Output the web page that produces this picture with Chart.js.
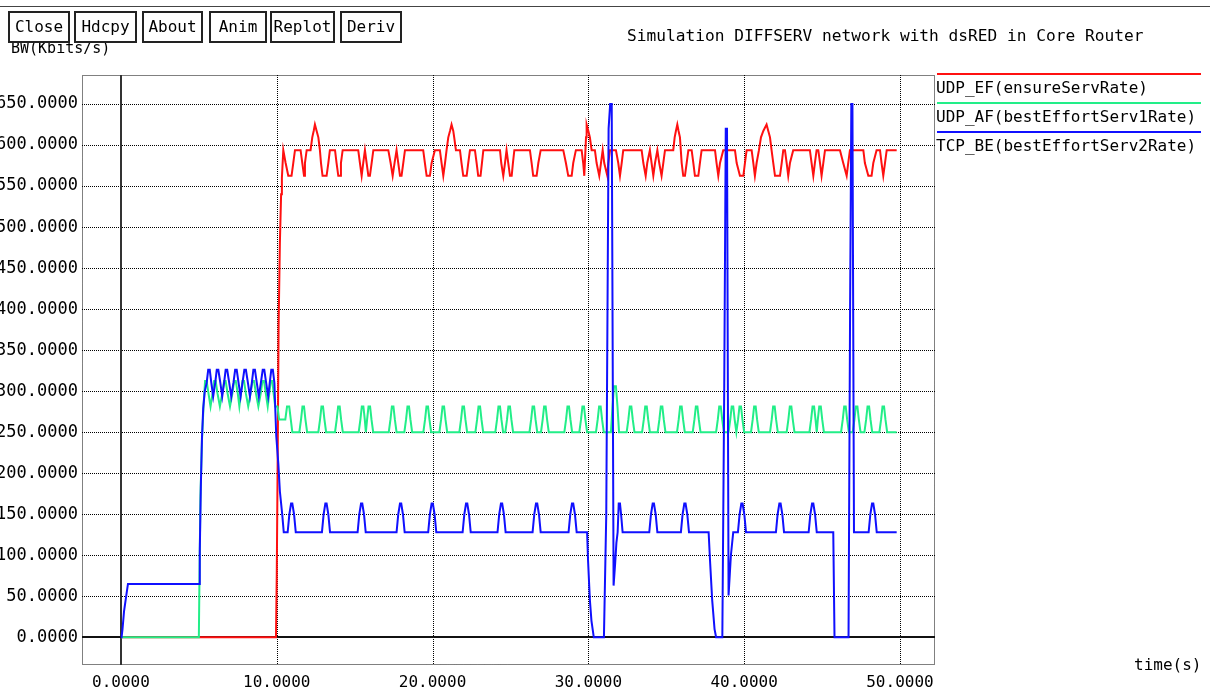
<!DOCTYPE html>
<html>
<head>
<meta charset="utf-8">
<title>Simulation DIFFSERV network with dsRED in Core Router</title>
<script src="https://cdn.jsdelivr.net/npm/chart.js@4.4.1/dist/chart.umd.min.js"></script>
<style>
  html, body { margin: 0; padding: 0; background: #fff; }
  #wrap {
    position: relative; width: 1210px; height: 690px; overflow: hidden;
    font-family: "DejaVu Sans Mono", monospace; color: #000;
  }
  #chart { position: absolute; left: 0; top: 0; }
  .topline { position: absolute; left: 0; top: 6px; width: 1210px; height: 1px; background: #444; }
  .btn {
    position: absolute; top: 11px; height: 32px; box-sizing: border-box;
    border: 2px solid #222; background: #fff; font-size: 16px; line-height: 28px;
    text-align: center; z-index: 2;
  }
  .ylabel { position: absolute; left: 11px; top: 40px; font-size: 15px; line-height: 16px; z-index: 1; }
  .title { position: absolute; left: 627px; top: 27px; font-size: 16.2px; line-height: 18px; }
  .xlabel { position: absolute; left: 1134px; top: 656px; font-size: 16px; line-height: 18px; }
</style>
</head>
<body>
<div id="wrap">
  <canvas id="chart" width="1210" height="690"></canvas>
  <div class="topline"></div>
  <div class="ylabel">BW(Kbits/s)</div>
  <div class="btn" style="left:8px;width:62px">Close</div>
  <div class="btn" style="left:74px;width:63px">Hdcpy</div>
  <div class="btn" style="left:142px;width:61px">About</div>
  <div class="btn" style="left:209px;width:58px">Anim</div>
  <div class="btn" style="left:270px;width:65px">Replot</div>
  <div class="btn" style="left:340px;width:62px">Deriv</div>
  <div class="title">Simulation DIFFSERV network with dsRED in Core Router</div>
  <div class="xlabel">time(s)</div>
</div>
<script>
(function () {
  "use strict";

  // ── Axis ticks ─────────────────────────────
  const X_TICKS = [0, 10, 20, 30, 40, 50];
  const Y_TICKS = [0, 50, 100, 150, 200, 250, 300, 350, 400, 450, 500, 550, 600, 650];

  const SERIES_LABELS = [
    "UDP_EF(ensureServRate)",
    "UDP_AF(bestEffortServ1Rate)",
    "TCP_BE(bestEffortServ2Rate)"
  ];

  // ── Samples [time (s), rate (Kbits/s)] ──
  const efSamples = [
    [0,0],[9.95,0],[10.0,75],[10.06,220],[10.12,380],[10.2,480],[10.28,540],[10.33,560],[10.42,593.8],
    [10.46,593.8],[10.57,578.1],[10.74,562.5],[10.95,562.5],[11.06,578.1],[11.17,593.8],
    [11.53,593.8],[11.64,578.1],[11.75,562.5],[11.81,578.1],[11.92,593.8],
    [12.17,593.8],[12.28,609.4],[12.37,617.2],[12.45,625],[12.56,617.2],[12.67,609.4],[12.77,593.8],
    [12.84,578.1],[12.94,562.5],[13.2,562.5],[13.31,578.1],[13.41,593.8],
    [13.74,593.8],[13.84,578.1],[13.95,562.5],[14.06,562.5],[14.12,578.1],[14.23,593.8],
    [15.23,593.8],[15.34,578.1],[15.45,562.5],[15.55,578.1],[15.66,593.8],[15.77,578.1],[15.88,562.5],[15.98,562.5],[16.09,578.1],[16.2,593.8],
    [17.16,593.8],[17.31,578.1],[17.44,562.5],[17.56,578.1],[17.69,593.8],[17.8,578.1],[17.91,562.5],[18.01,562.5],[18.12,578.1],[18.23,593.8],
    [19.4,593.8],[19.51,578.1],[19.62,562.5],[19.83,562.5],[19.94,578.1],[20.15,593.8],
    [20.47,593.8],[20.58,578.1],[20.69,562.5],[20.8,578.1],[20.9,593.8],[21.01,609.4],[21.12,617.2],[21.22,625],[21.33,617.2],[21.39,609.4],[21.5,593.8],
    [21.76,593.8],[21.86,578.1],[21.97,562.5],[22.19,562.5],[22.29,578.1],[22.4,593.8],
    [22.72,593.8],[22.83,578.1],[22.93,562.5],[23.08,562.5],[23.17,578.1],[23.26,593.8],
    [24.33,593.8],[24.41,578.1],[24.54,562.5],[24.65,578.1],[24.75,593.8],[24.86,578.1],[24.97,562.5],[25.08,562.5],[25.16,578.1],[25.25,593.8],
    [26.25,593.8],[26.36,578.1],[26.46,562.5],[26.68,562.5],[26.79,578.1],[26.94,593.8],
    [28.39,593.8],[28.56,578.1],[28.71,562.5],[28.93,562.5],[29.03,578.1],[29.2,593.8],
    [29.57,593.8],[29.67,578.1],[29.74,562.5],[29.85,609.4],[29.89,625],[30.0,617.2],[30.1,609.4],[30.21,593.8],
    [30.42,593.8],[30.53,578.1],[30.7,562.5],[30.81,578.1],[30.92,593.8],[31.02,578.1],[31.22,562.5],[31.28,578.1],[31.39,593.8],
    [31.77,593.8],[31.92,578.1],[32.03,562.5],[32.14,578.1],[32.24,593.8],
    [33.42,593.8],[33.53,578.1],[33.68,562.5],[33.78,578.1],[33.95,593.8],[34.06,578.1],[34.17,562.5],[34.28,578.1],[34.43,593.8],[34.55,578.1],[34.7,562.5],[34.81,578.1],[34.92,593.8],
    [35.45,593.8],[35.54,609.4],[35.62,617.2],[35.71,625],[35.79,617.2],[35.88,609.4],[35.99,578.1],[36.09,562.5],[36.2,562.5],[36.31,578.1],[36.42,593.8],
    [36.63,593.8],[36.74,578.1],[36.84,562.5],[37.06,562.5],[37.16,578.1],[37.27,593.8],
    [38.13,593.8],[38.23,578.1],[38.34,562.5],[38.45,578.1],[38.66,593.8],
    [39.41,593.8],[39.52,578.1],[39.73,562.5],[39.95,562.5],[40.05,578.1],[40.16,593.8],
    [40.48,593.8],[40.59,578.1],[40.69,562.5],[40.8,578.1],[40.95,593.8],[41.08,609.4],[41.23,617.2],[41.44,625],[41.55,617.2],[41.66,609.4],[41.76,593.8],[41.87,578.1],[41.98,562.5],[42.3,562.5],[42.41,578.1],[42.51,593.8],
    [42.62,593.8],[42.73,578.1],[42.83,562.5],[42.94,578.1],[43.15,593.8],
    [44.22,593.8],[44.33,578.1],[44.44,562.5],[44.54,578.1],[44.65,593.8],[44.76,593.8],[44.87,578.1],[44.97,562.5],[45.08,578.1],[45.19,593.8],
    [46.15,593.8],[46.36,578.1],[46.58,562.5],[46.68,578.1],[46.79,593.8],
    [47.65,593.8],[47.75,578.1],[47.97,562.5],[48.18,562.5],[48.29,578.1],[48.5,593.8],
    [48.72,593.8],[48.82,578.1],[48.93,562.5],[49.04,578.1],[49.15,593.8],
    [49.79,593.8]
  ];

  const afSamples = [
    [0,0],[5.0,0],[5.03,55],[5.1,170],[5.2,240],[5.3,281.3],[5.4,312.5],[5.5,312.5],[5.62,296.9],[5.75,281.3],
    [5.88,296.9],[5.98,312.5],[6.08,312.5],[6.2,296.9],[6.35,281.3],[6.5,296.9],[6.62,312.5],[6.72,312.5],[6.85,296.9],[7.0,281.3],
    [7.15,296.9],[7.27,312.5],[7.37,312.5],[7.5,296.9],[7.6,281.3],[7.7,296.9],[7.8,312.5],[7.9,312.5],[8.02,296.9],[8.17,281.3],
    [8.32,296.9],[8.44,312.5],[8.54,312.5],[8.67,296.9],[8.82,281.3],[8.97,296.9],[9.08,312.5],[9.18,312.5],[9.3,296.9],[9.42,281.3],
    [9.52,296.9],[9.62,312.5],[9.72,312.5],[9.8,296.9],[9.9,281.3],[10.05,281.3],[10.15,265.6],[10.55,265.6],[10.66,281.3],[10.8,281.3],[10.9,265.6],[11.0,250],
    [11.45,250],[11.56,265.6],[11.65,281.3],[11.75,281.3],[11.84,265.6],[11.95,250],
    [12.67,250],[12.78,265.6],[12.87,281.3],[12.97,281.3],[13.06,265.6],[13.17,250],
    [13.74,250],[13.85,265.6],[13.94,281.3],[14.04,281.3],[14.13,265.6],[14.24,250],
    [15.26,250],[15.37,265.6],[15.46,281.3],[15.56,281.3],[15.65,265.6],[15.72,250],
    [15.8,265.6],[15.89,281.3],[15.99,281.3],[16.08,265.6],[16.19,250],
    [17.19,250],[17.3,265.6],[17.39,281.3],[17.49,281.3],[17.58,265.6],[17.69,250],
    [18.19,250],[18.3,265.6],[18.39,281.3],[18.49,281.3],[18.58,265.6],[18.69,250],
    [19.41,250],[19.52,265.6],[19.61,281.3],[19.71,281.3],[19.8,265.6],[19.91,250],
    [20.44,250],[20.55,265.6],[20.64,281.3],[20.74,281.3],[20.83,265.6],[20.94,250],
    [21.72,250],[21.83,265.6],[21.92,281.3],[22.02,281.3],[22.11,265.6],[22.22,250],
    [22.75,250],[22.86,265.6],[22.95,281.3],[23.05,281.3],[23.14,265.6],[23.25,250],
    [24.03,250],[24.14,265.6],[24.23,281.3],[24.33,281.3],[24.42,265.6],[24.53,250],
    [24.67,250],[24.78,265.6],[24.87,281.3],[24.97,281.3],[25.06,265.6],[25.17,250],
    [26.22,250],[26.33,265.6],[26.42,281.3],[26.52,281.3],[26.61,265.6],[26.72,250],
    [26.96,250],[27.07,265.6],[27.16,281.3],[27.26,281.3],[27.35,265.6],[27.46,250],
    [28.46,250],[28.57,265.6],[28.66,281.3],[28.76,281.3],[28.85,265.6],[28.96,250],
    [29.42,250],[29.53,265.6],[29.62,281.3],[29.72,281.3],[29.81,265.6],[29.92,250],
    [30.49,250],[30.6,265.6],[30.69,281.3],[30.79,281.3],[30.88,265.6],[30.99,250],
    [31.45,250],[31.55,281.3],[31.65,306],[31.77,306],[31.87,281.3],[31.97,250],
    [32.46,250],[32.57,265.6],[32.66,281.3],[32.76,281.3],[32.85,265.6],[32.96,250],
    [33.45,250],[33.56,265.6],[33.65,281.3],[33.75,281.3],[33.84,265.6],[33.95,250],
    [34.45,250],[34.56,265.6],[34.65,281.3],[34.75,281.3],[34.84,265.6],[34.95,250],
    [35.69,250],[35.8,265.6],[35.89,281.3],[35.99,281.3],[36.08,265.6],[36.19,250],
    [36.7,250],[36.81,265.6],[36.9,281.3],[37.0,281.3],[37.09,265.6],[37.2,250],
    [38.2,250],[38.31,265.6],[38.4,281.3],[38.5,281.3],[38.59,265.6],[38.7,250],
    [39.0,250],[39.11,265.6],[39.2,281.3],[39.3,281.3],[39.39,265.6],[39.5,250],
    [39.61,265.6],[39.7,281.3],[39.8,281.3],[39.89,265.6],[40.0,250],
    [40.44,250],[40.55,265.6],[40.64,281.3],[40.74,281.3],[40.83,265.6],[40.94,250],
    [41.66,250],[41.77,265.6],[41.86,281.3],[41.96,281.3],[42.05,265.6],[42.16,250],
    [42.73,250],[42.84,265.6],[42.93,281.3],[43.03,281.3],[43.12,265.6],[43.23,250],
    [44.19,250],[44.3,265.6],[44.39,281.3],[44.49,281.3],[44.58,265.6],[44.66,250],
    [44.73,265.6],[44.82,281.3],[44.92,281.3],[45.01,265.6],[45.12,250],
    [46.22,250],[46.33,265.6],[46.42,281.3],[46.52,281.3],[46.61,265.6],[46.72,250],
    [46.97,250],[47.08,265.6],[47.17,281.3],[47.27,281.3],[47.36,265.6],[47.47,250],
    [47.72,250],[47.83,265.6],[47.92,281.3],[48.02,281.3],[48.11,265.6],[48.22,250],
    [48.68,250],[48.79,265.6],[48.88,281.3],[48.98,281.3],[49.07,265.6],[49.18,250],
    [49.79,250]
  ];

  const beSamples = [
    [0,0],[0.04,0],[0.1,10],[0.2,32],[0.35,52],[0.45,65],[5.03,65],[5.06,105],[5.13,186],[5.2,243],[5.28,279],[5.38,300],
    [5.5,310],[5.6,326],[5.7,326],[5.8,310],[5.92,293.5],[6.05,310],[6.15,326],[6.25,326],[6.38,310],[6.5,293.5],
    [6.62,310],[6.72,326],[6.82,326],[6.95,310],[7.08,293.5],[7.22,310],[7.33,326],[7.43,326],[7.55,310],[7.68,293.5],
    [7.8,310],[7.92,326],[8.02,326],[8.15,310],[8.28,293.5],[8.4,310],[8.5,326],[8.6,326],[8.72,310],[8.85,293.5],
    [8.98,310],[9.1,326],[9.2,326],[9.32,310],[9.45,293.5],[9.55,310],[9.65,326],[9.75,326],[9.85,310],
    [9.9,281],[9.97,245],[10.1,212],[10.2,178],[10.35,150],[10.45,128],
    [10.7,128],[10.81,150],[10.92,163],[11.0,163],[11.11,150],[11.22,128],
    [12.9,128],[13.01,150],[13.12,163],[13.2,163],[13.31,150],[13.42,128],
    [15.19,128],[15.3,150],[15.41,163],[15.49,163],[15.6,150],[15.71,128],
    [17.69,128],[17.8,150],[17.91,163],[17.99,163],[18.1,150],[18.21,128],
    [19.72,128],[19.83,150],[19.94,163],[20.02,163],[20.13,150],[20.24,128],
    [21.93,128],[22.04,150],[22.15,163],[22.23,163],[22.34,150],[22.45,128],
    [24.17,128],[24.28,150],[24.39,163],[24.47,163],[24.58,150],[24.69,128],
    [26.42,128],[26.53,150],[26.64,163],[26.72,163],[26.83,150],[26.94,128],
    [28.73,128],[28.84,150],[28.95,163],[29.03,163],[29.14,150],[29.25,128],
    [29.92,128],[29.98,94],[30.1,45],[30.2,20],[30.35,0],[31.0,0],[31.15,150],[31.3,620],[31.4,650],[31.5,650],
    [31.62,63],[31.72,90],[31.8,115],[31.88,128],[31.95,163],[32.03,163],[32.1,150],[32.2,128],
    [33.91,128],[34.02,150],[34.13,163],[34.21,163],[34.32,150],[34.43,128],
    [35.94,128],[36.05,150],[36.16,163],[36.24,163],[36.35,150],[36.46,128],
    [37.72,128],[37.82,90],[37.95,45],[38.1,10],[38.2,0],[38.6,0],[38.72,300],[38.82,620],[38.9,620],
    [39.0,51],[39.15,100],[39.3,128],[39.6,128],[39.71,150],[39.82,163],[39.9,163],[40.01,150],[40.12,128],
    [42.04,128],[42.15,150],[42.26,163],[42.34,163],[42.45,150],[42.56,128],
    [44.14,128],[44.25,150],[44.36,163],[44.44,163],[44.55,150],[44.66,128],
    [45.72,128],[45.8,0],[46.7,0],[46.8,400],[46.88,650],[46.95,650],[47.05,128],
    [47.99,128],[48.1,150],[48.21,163],[48.29,163],[48.4,150],[48.51,128],
    [49.79,128]
  ];

  // ── Look ───────────────────────────────────
  const COLORS = ["#ff1010", "#22ee88", "#1010ff"];
  const FONT = { family: "'DejaVu Sans Mono', monospace", size: 16 };
  const Y_FONT = { family: "'DejaVu Sans Mono', monospace", size: 17 };

  function toPoints(samples) {
    return samples.map((s) => ({ x: s[0], y: s[1] }));
  }

  // dotted grid + frame + solid zero axes, all from the scales
  const gridPlugin = {
    id: "xgraphGrid",
    beforeDatasetsDraw(chart) {
      const { ctx, chartArea: a, scales: { x, y } } = chart;
      const px = (v) => Math.round(x.getPixelForValue(v)) + 0.5;
      const py = (v) => Math.round(y.getPixelForValue(v)) + 0.5;
      ctx.save();
      ctx.strokeStyle = "#000";
      ctx.lineWidth = 1;
      ctx.setLineDash([1, 1]);
      ctx.beginPath();
      Y_TICKS.forEach((v) => { if (v !== 0) { ctx.moveTo(a.left, py(v)); ctx.lineTo(a.right, py(v)); } });
      X_TICKS.forEach((v) => { if (v !== 0) { ctx.moveTo(px(v), a.top); ctx.lineTo(px(v), a.bottom); } });
      ctx.rect(a.left + 0.5, a.top + 0.5, a.right - a.left - 1, a.bottom - a.top - 1);
      ctx.stroke();
      ctx.setLineDash([]);
      ctx.lineWidth = 2;
      ctx.strokeStyle = "#333";
      ctx.beginPath();
      ctx.moveTo(Math.round(x.getPixelForValue(0)), a.top);
      ctx.lineTo(Math.round(x.getPixelForValue(0)), a.bottom);
      ctx.stroke();
      ctx.strokeStyle = "#111";
      ctx.beginPath();
      ctx.moveTo(a.left, Math.round(y.getPixelForValue(0)));
      ctx.lineTo(a.right, Math.round(y.getPixelForValue(0)));
      ctx.stroke();
      ctx.restore();
    }
  };

  // legend to the right of the frame: colour bar above each label
  const legendPlugin = {
    id: "xgraphLegend",
    afterDraw(chart) {
      const { ctx, chartArea: a } = chart;
      ctx.save();
      ctx.font = `${FONT.size}px ${FONT.family}`;
      ctx.textBaseline = "alphabetic";
      ctx.fillStyle = "#000";
      chart.data.datasets.forEach((ds, i) => {
        const top = 74 + i * 29;
        ctx.strokeStyle = ds.borderColor;
        ctx.lineWidth = 2;
        ctx.beginPath();
        ctx.moveTo(a.right + 2, top);
        ctx.lineTo(1201, top);
        ctx.stroke();
        ctx.fillText(ds.label, a.right + 1, top + 19);
      });
      ctx.restore();
    }
  };

  new Chart(document.getElementById("chart"), {
    type: "line",
    data: {
      datasets: [
        { label: SERIES_LABELS[0], data: toPoints(efSamples), borderColor: COLORS[0], order: 3 },
        { label: SERIES_LABELS[1], data: toPoints(afSamples), borderColor: COLORS[1], order: 2 },
        { label: SERIES_LABELS[2], data: toPoints(beSamples), borderColor: COLORS[2], order: 1 }
      ]
    },
    options: {
      responsive: false,
      animation: false,
      layout: { padding: { top: 75, right: 275, left: 0, bottom: 0 } },
      elements: {
        point: { radius: 0 },
        line: { borderWidth: 2, tension: 0, fill: false }
      },
      plugins: { legend: { display: false }, tooltip: { enabled: false } },
      scales: {
        x: {
          type: "linear",
          min: -2.5,
          max: 52.25,
          afterBuildTicks(s) { s.ticks = X_TICKS.map((v) => ({ value: v })); },
          afterFit(s) { s.height = 25; },
          grid: { display: false, drawTicks: false },
          border: { display: false },
          ticks: { color: "#000", font: FONT, padding: 8, maxRotation: 0, autoSkip: false,
                   callback: (v) => Number(v).toFixed(4) }
        },
        y: {
          type: "linear",
          min: -33.8,
          max: 685.4,
          afterBuildTicks(s) { s.ticks = Y_TICKS.map((v) => ({ value: v })); },
          afterFit(s) { s.width = 82; },
          grid: { display: false, drawTicks: false },
          border: { display: false },
          ticks: { color: "#000", font: Y_FONT, padding: 4, autoSkip: false,
                   callback: (v) => Number(v).toFixed(4) }
        }
      }
    },
    plugins: [gridPlugin, legendPlugin]
  });
})();
</script>
</body>
</html>
